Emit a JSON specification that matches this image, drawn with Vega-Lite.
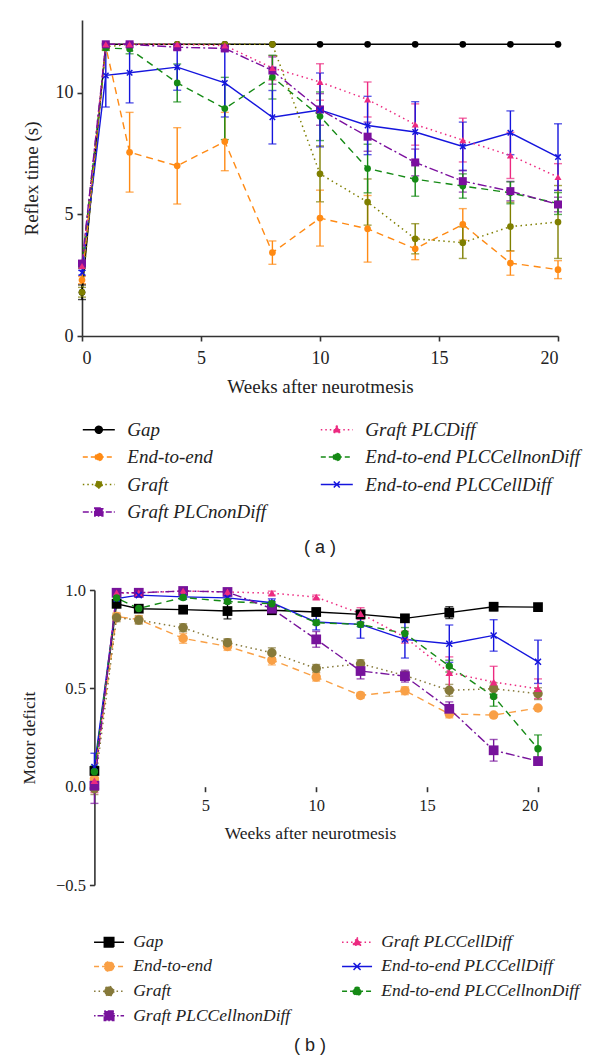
{
  "$schema": "https://vega.github.io/schema/vega-lite/v6.json",
  "padding": {"top": 20, "left": 20, "right": 5, "bottom": 5},
  "bounds": "flush",
  "spacing": 254,
  "resolve": {
    "scale": {"color": "independent", "fill": "independent", "stroke": "independent", "shape": "independent", "strokeDash": "independent"}
  },
  "config": {
    "view": {"stroke": null},
    "axis": {"grid": false, "domainColor": "#333", "domainWidth": 1.6, "tickColor": "#333", "tickWidth": 1.6, "tickSize": 5, "labelFont": "Liberation Serif", "titleFont": "Liberation Serif", "titleFontWeight": "normal", "labelColor": "#222", "titleColor": "#222"},
    "legend": {"labelFont": "Liberation Serif", "labelFontStyle": "italic", "labelLimit": 400, "labelColor": "#222", "padding": 0},
    "title": {"font": "Liberation Sans", "fontWeight": "normal", "color": "#222"}
  },
  "datasets": {
    "a": [
      {"group": "Gap", "week": 0, "value": 1.8, "err": 0.3},
      {"group": "Gap", "week": 1, "value": 12, "err": 0},
      {"group": "Gap", "week": 2, "value": 12, "err": 0},
      {"group": "Gap", "week": 4, "value": 12, "err": 0},
      {"group": "Gap", "week": 6, "value": 12, "err": 0},
      {"group": "Gap", "week": 8, "value": 12, "err": 0},
      {"group": "Gap", "week": 10, "value": 12, "err": 0},
      {"group": "Gap", "week": 12, "value": 12, "err": 0},
      {"group": "Gap", "week": 14, "value": 12, "err": 0},
      {"group": "Gap", "week": 16, "value": 12, "err": 0},
      {"group": "Gap", "week": 18, "value": 12, "err": 0},
      {"group": "Gap", "week": 20, "value": 12, "err": 0},
      {"group": "End-to-end", "week": 0, "value": 2.3, "err": 0.15},
      {"group": "End-to-end", "week": 1, "value": 11.9, "err": 0.15},
      {"group": "End-to-end", "week": 2, "value": 7.56, "err": 1.64},
      {"group": "End-to-end", "week": 4, "value": 7.0, "err": 1.57},
      {"group": "End-to-end", "week": 6, "value": 8.0, "err": 1.2},
      {"group": "End-to-end", "week": 8, "value": 3.43, "err": 0.48},
      {"group": "End-to-end", "week": 10, "value": 4.85, "err": 1.15},
      {"group": "End-to-end", "week": 12, "value": 4.41, "err": 1.37},
      {"group": "End-to-end", "week": 14, "value": 3.59, "err": 0.45},
      {"group": "End-to-end", "week": 16, "value": 4.59, "err": 0.65},
      {"group": "End-to-end", "week": 18, "value": 3.0, "err": 0.5},
      {"group": "End-to-end", "week": 20, "value": 2.73, "err": 0.37},
      {"group": "Graft", "week": 0, "value": 1.8, "err": 0.2},
      {"group": "Graft", "week": 1, "value": 11.9, "err": 0.1},
      {"group": "Graft", "week": 2, "value": 12, "err": 0},
      {"group": "Graft", "week": 4, "value": 12, "err": 0},
      {"group": "Graft", "week": 6, "value": 12, "err": 0},
      {"group": "Graft", "week": 8, "value": 12, "err": 0},
      {"group": "Graft", "week": 10, "value": 6.67, "err": 1.15},
      {"group": "Graft", "week": 12, "value": 5.51, "err": 0.95},
      {"group": "Graft", "week": 14, "value": 4.0, "err": 0.62},
      {"group": "Graft", "week": 16, "value": 3.84, "err": 0.65},
      {"group": "Graft", "week": 18, "value": 4.5, "err": 1.0},
      {"group": "Graft", "week": 20, "value": 4.69, "err": 1.5},
      {"group": "Graft PLCnonDiff", "week": 0, "value": 2.98, "err": 0.1},
      {"group": "Graft PLCnonDiff", "week": 1, "value": 12, "err": 0},
      {"group": "Graft PLCnonDiff", "week": 2, "value": 12, "err": 0},
      {"group": "Graft PLCnonDiff", "week": 4, "value": 11.88, "err": 0.1},
      {"group": "Graft PLCnonDiff", "week": 6, "value": 11.83, "err": 0.1},
      {"group": "Graft PLCnonDiff", "week": 8, "value": 10.92, "err": 0.56},
      {"group": "Graft PLCnonDiff", "week": 10, "value": 9.32, "err": 0.65},
      {"group": "Graft PLCnonDiff", "week": 12, "value": 8.2, "err": 0.6},
      {"group": "Graft PLCnonDiff", "week": 14, "value": 7.14, "err": 0.55},
      {"group": "Graft PLCnonDiff", "week": 16, "value": 6.37, "err": 0.45},
      {"group": "Graft PLCnonDiff", "week": 18, "value": 5.96, "err": 0.4},
      {"group": "Graft PLCnonDiff", "week": 20, "value": 5.41, "err": 0.3},
      {"group": "Graft PLCDiff", "week": 0, "value": 2.88, "err": 0.1},
      {"group": "Graft PLCDiff", "week": 1, "value": 12, "err": 0},
      {"group": "Graft PLCDiff", "week": 2, "value": 12, "err": 0},
      {"group": "Graft PLCDiff", "week": 4, "value": 12, "err": 0},
      {"group": "Graft PLCDiff", "week": 6, "value": 11.95, "err": 0.05},
      {"group": "Graft PLCDiff", "week": 8, "value": 11.03, "err": 0.5},
      {"group": "Graft PLCDiff", "week": 10, "value": 10.45, "err": 0.75},
      {"group": "Graft PLCDiff", "week": 12, "value": 9.73, "err": 0.72},
      {"group": "Graft PLCDiff", "week": 14, "value": 8.7, "err": 0.85},
      {"group": "Graft PLCDiff", "week": 16, "value": 8.06, "err": 0.9},
      {"group": "Graft PLCDiff", "week": 18, "value": 7.43, "err": 0.95},
      {"group": "Graft PLCDiff", "week": 20, "value": 6.54, "err": 0.55},
      {"group": "End-to-end PLCCellnonDiff", "week": 0, "value": 2.9, "err": 0.1},
      {"group": "End-to-end PLCCellnonDiff", "week": 1, "value": 11.85, "err": 0.1},
      {"group": "End-to-end PLCCellnonDiff", "week": 2, "value": 11.81, "err": 0.2},
      {"group": "End-to-end PLCCellnonDiff", "week": 4, "value": 10.41, "err": 0.78},
      {"group": "End-to-end PLCCellnonDiff", "week": 6, "value": 9.36, "err": 1.28},
      {"group": "End-to-end PLCCellnonDiff", "week": 8, "value": 10.65, "err": 0.9},
      {"group": "End-to-end PLCCellnonDiff", "week": 10, "value": 9.04, "err": 1.0},
      {"group": "End-to-end PLCCellnonDiff", "week": 12, "value": 6.89, "err": 1.0},
      {"group": "End-to-end PLCCellnonDiff", "week": 14, "value": 6.45, "err": 0.7},
      {"group": "End-to-end PLCCellnonDiff", "week": 16, "value": 6.17, "err": 0.5},
      {"group": "End-to-end PLCCellnonDiff", "week": 18, "value": 5.89, "err": 0.45},
      {"group": "End-to-end PLCCellnonDiff", "week": 20, "value": 5.45, "err": 0.45},
      {"group": "End-to-end PLCCellDiff", "week": 0, "value": 2.6, "err": 0.1},
      {"group": "End-to-end PLCCellDiff", "week": 1, "value": 10.72, "err": 1.3},
      {"group": "End-to-end PLCCellDiff", "week": 2, "value": 10.83, "err": 1.24},
      {"group": "End-to-end PLCCellDiff", "week": 4, "value": 11.06, "err": 0.95},
      {"group": "End-to-end PLCCellDiff", "week": 6, "value": 10.41, "err": 1.4},
      {"group": "End-to-end PLCCellDiff", "week": 8, "value": 9.0, "err": 1.1},
      {"group": "End-to-end PLCCellDiff", "week": 10, "value": 9.3, "err": 1.52},
      {"group": "End-to-end PLCCellDiff", "week": 12, "value": 8.66, "err": 1.2},
      {"group": "End-to-end PLCCellDiff", "week": 14, "value": 8.39, "err": 1.25},
      {"group": "End-to-end PLCCellDiff", "week": 16, "value": 7.8, "err": 1.0},
      {"group": "End-to-end PLCCellDiff", "week": 18, "value": 8.36, "err": 0.9},
      {"group": "End-to-end PLCCellDiff", "week": 20, "value": 7.36, "err": 1.37}
    ],
    "b": [
      {"group": "Gap", "week": 0, "value": 0.08, "err": 0.02},
      {"group": "Gap", "week": 1, "value": 0.93, "err": 0.02},
      {"group": "Gap", "week": 2, "value": 0.905, "err": 0.01},
      {"group": "Gap", "week": 4, "value": 0.9, "err": 0.01},
      {"group": "Gap", "week": 6, "value": 0.893, "err": 0.04},
      {"group": "Gap", "week": 8, "value": 0.897, "err": 0.02},
      {"group": "Gap", "week": 10, "value": 0.888, "err": 0.02},
      {"group": "Gap", "week": 12, "value": 0.876, "err": 0.02},
      {"group": "Gap", "week": 14, "value": 0.856, "err": 0.015},
      {"group": "Gap", "week": 16, "value": 0.885, "err": 0.03},
      {"group": "Gap", "week": 18, "value": 0.915, "err": 0.02},
      {"group": "Gap", "week": 20, "value": 0.913, "err": 0.01},
      {"group": "End-to-end", "week": 0, "value": 0.04, "err": 0.03},
      {"group": "End-to-end", "week": 1, "value": 0.865, "err": 0.02},
      {"group": "End-to-end", "week": 2, "value": 0.85, "err": 0.02},
      {"group": "End-to-end", "week": 4, "value": 0.754, "err": 0.025},
      {"group": "End-to-end", "week": 6, "value": 0.713, "err": 0.02},
      {"group": "End-to-end", "week": 8, "value": 0.644, "err": 0.025},
      {"group": "End-to-end", "week": 10, "value": 0.557, "err": 0.02},
      {"group": "End-to-end", "week": 12, "value": 0.464, "err": 0.015},
      {"group": "End-to-end", "week": 14, "value": 0.488, "err": 0.02},
      {"group": "End-to-end", "week": 16, "value": 0.37, "err": 0.02},
      {"group": "End-to-end", "week": 18, "value": 0.364, "err": 0.01},
      {"group": "End-to-end", "week": 20, "value": 0.4, "err": 0},
      {"group": "Graft", "week": 0, "value": -0.01, "err": 0.03},
      {"group": "Graft", "week": 1, "value": 0.859, "err": 0.02},
      {"group": "Graft", "week": 2, "value": 0.847, "err": 0.02},
      {"group": "Graft", "week": 4, "value": 0.808, "err": 0.02},
      {"group": "Graft", "week": 6, "value": 0.732, "err": 0.02},
      {"group": "Graft", "week": 8, "value": 0.681, "err": 0.025},
      {"group": "Graft", "week": 10, "value": 0.601, "err": 0.02},
      {"group": "Graft", "week": 12, "value": 0.625, "err": 0.02},
      {"group": "Graft", "week": 14, "value": 0.565, "err": 0.02},
      {"group": "Graft", "week": 16, "value": 0.49, "err": 0.03},
      {"group": "Graft", "week": 18, "value": 0.498, "err": 0.03},
      {"group": "Graft", "week": 20, "value": 0.473, "err": 0.03},
      {"group": "Graft PLCCellnonDiff", "week": 0, "value": 0.005, "err": 0.09},
      {"group": "Graft PLCCellnonDiff", "week": 1, "value": 0.986, "err": 0.01},
      {"group": "Graft PLCCellnonDiff", "week": 2, "value": 0.986, "err": 0.01},
      {"group": "Graft PLCCellnonDiff", "week": 4, "value": 0.995, "err": 0.01},
      {"group": "Graft PLCCellnonDiff", "week": 6, "value": 0.99, "err": 0.01},
      {"group": "Graft PLCCellnonDiff", "week": 8, "value": 0.905, "err": 0.01},
      {"group": "Graft PLCCellnonDiff", "week": 10, "value": 0.749, "err": 0.04},
      {"group": "Graft PLCCellnonDiff", "week": 12, "value": 0.588, "err": 0.04},
      {"group": "Graft PLCCellnonDiff", "week": 14, "value": 0.562, "err": 0.03},
      {"group": "Graft PLCCellnonDiff", "week": 16, "value": 0.396, "err": 0.035},
      {"group": "Graft PLCCellnonDiff", "week": 18, "value": 0.185, "err": 0.055},
      {"group": "Graft PLCCellnonDiff", "week": 20, "value": 0.13, "err": 0.02},
      {"group": "Graft PLCCellDiff", "week": 0, "value": 0.03, "err": 0.06},
      {"group": "Graft PLCCellDiff", "week": 1, "value": 0.985, "err": 0.01},
      {"group": "Graft PLCCellDiff", "week": 2, "value": 0.985, "err": 0.01},
      {"group": "Graft PLCCellDiff", "week": 4, "value": 0.995, "err": 0.01},
      {"group": "Graft PLCCellDiff", "week": 6, "value": 0.99, "err": 0.01},
      {"group": "Graft PLCCellDiff", "week": 8, "value": 0.984, "err": 0.01},
      {"group": "Graft PLCCellDiff", "week": 10, "value": 0.964, "err": 0.01},
      {"group": "Graft PLCCellDiff", "week": 12, "value": 0.88, "err": 0.03},
      {"group": "Graft PLCCellDiff", "week": 14, "value": 0.76, "err": 0.03},
      {"group": "Graft PLCCellDiff", "week": 16, "value": 0.58, "err": 0.08},
      {"group": "Graft PLCCellDiff", "week": 18, "value": 0.532, "err": 0.08},
      {"group": "Graft PLCCellDiff", "week": 20, "value": 0.498, "err": 0.05},
      {"group": "End-to-end PLCCellDiff", "week": 0, "value": 0.1, "err": 0.07},
      {"group": "End-to-end PLCCellDiff", "week": 1, "value": 0.956, "err": 0.01},
      {"group": "End-to-end PLCCellDiff", "week": 2, "value": 0.974, "err": 0.01},
      {"group": "End-to-end PLCCellDiff", "week": 4, "value": 0.965, "err": 0.01},
      {"group": "End-to-end PLCCellDiff", "week": 6, "value": 0.96, "err": 0.01},
      {"group": "End-to-end PLCCellDiff", "week": 8, "value": 0.935, "err": 0.02},
      {"group": "End-to-end PLCCellDiff", "week": 10, "value": 0.837, "err": 0.04},
      {"group": "End-to-end PLCCellDiff", "week": 12, "value": 0.825, "err": 0.07},
      {"group": "End-to-end PLCCellDiff", "week": 14, "value": 0.749, "err": 0.095},
      {"group": "End-to-end PLCCellDiff", "week": 16, "value": 0.727, "err": 0.095},
      {"group": "End-to-end PLCCellDiff", "week": 18, "value": 0.769, "err": 0.08},
      {"group": "End-to-end PLCCellDiff", "week": 20, "value": 0.635, "err": 0.11},
      {"group": "End-to-end PLCCellnonDiff", "week": 0, "value": 0.076, "err": 0.03},
      {"group": "End-to-end PLCCellnonDiff", "week": 1, "value": 0.959, "err": 0.01},
      {"group": "End-to-end PLCCellnonDiff", "week": 2, "value": 0.906, "err": 0.01},
      {"group": "End-to-end PLCCellnonDiff", "week": 4, "value": 0.962, "err": 0.01},
      {"group": "End-to-end PLCCellnonDiff", "week": 6, "value": 0.942, "err": 0.01},
      {"group": "End-to-end PLCCellnonDiff", "week": 8, "value": 0.93, "err": 0.01},
      {"group": "End-to-end PLCCellnonDiff", "week": 10, "value": 0.834, "err": 0.01},
      {"group": "End-to-end PLCCellnonDiff", "week": 12, "value": 0.825, "err": 0.01},
      {"group": "End-to-end PLCCellnonDiff", "week": 14, "value": 0.779, "err": 0.03},
      {"group": "End-to-end PLCCellnonDiff", "week": 16, "value": 0.613, "err": 0.03},
      {"group": "End-to-end PLCCellnonDiff", "week": 18, "value": 0.459, "err": 0.05},
      {"group": "End-to-end PLCCellnonDiff", "week": 20, "value": 0.193, "err": 0.07}
    ]
  },
  "vconcat": [
    {
      "width": 476,
      "height": 316,
      "data": {"name": "a"},
      "title": {"text": "( a )", "orient": "bottom", "offset": 17, "fontSize": 18},
      "encoding": {
        "x": {"field": "week", "type": "quantitative", "scale": {"domain": [0, 20], "nice": false}, "axis": {"values": [0, 5, 10, 15, 20], "title": "Weeks after neurotmesis", "labelFontSize": 18, "titleFontSize": 19, "labelPadding": 8, "titlePadding": 10}},
        "y": {"field": "value", "type": "quantitative", "scale": {"domain": [0, 13], "nice": false, "zero": false}, "axis": {"values": [0, 5, 10], "title": "Reflex time (s)", "labelFontSize": 18, "titleFontSize": 19, "labelPadding": 4, "titlePadding": 13.5}}
      },
      "layer": [
        {
          "transform": [{"filter": "datum.err > 0"}],
          "mark": {"type": "errorbar", "ticks": {"size": 8, "thickness": 1.4}, "thickness": 1.4},
          "encoding": {
            "yError": {"field": "err"},
            "color": {"field": "group", "type": "nominal", "legend": null, "scale": {"domain": ["End-to-end PLCCellDiff", "End-to-end PLCCellnonDiff", "Graft PLCDiff", "Graft PLCnonDiff", "Graft", "End-to-end", "Gap"], "range": ["#1515DD", "#158A15", "#EC2A80", "#7B0F9E", "#7F7F00", "#FF8A14", "#000000"]}}
          }
        },
        {
          "transform": [{"filter": {"field": "group", "oneOf": ["Gap", "End-to-end PLCCellDiff"]}}],
          "mark": {"type": "line", "strokeWidth": 1.4},
          "encoding": {
            "color": {"field": "group", "type": "nominal", "legend": null, "scale": {"domain": ["End-to-end PLCCellDiff", "End-to-end PLCCellnonDiff", "Graft PLCDiff", "Graft PLCnonDiff", "Graft", "End-to-end", "Gap"], "range": ["#1515DD", "#158A15", "#EC2A80", "#7B0F9E", "#7F7F00", "#FF8A14", "#000000"]}}
          }
        },
        {
          "transform": [{"filter": {"field": "group", "oneOf": ["End-to-end", "End-to-end PLCCellnonDiff"]}}],
          "mark": {"type": "line", "strokeWidth": 1.4, "strokeDash": [7, 5]},
          "encoding": {
            "color": {"field": "group", "type": "nominal", "legend": null, "scale": {"domain": ["End-to-end PLCCellDiff", "End-to-end PLCCellnonDiff", "Graft PLCDiff", "Graft PLCnonDiff", "Graft", "End-to-end", "Gap"], "range": ["#1515DD", "#158A15", "#EC2A80", "#7B0F9E", "#7F7F00", "#FF8A14", "#000000"]}}
          }
        },
        {
          "transform": [{"filter": {"field": "group", "oneOf": ["Graft", "Graft PLCDiff"]}}],
          "mark": {"type": "line", "strokeWidth": 1.5, "strokeDash": [1.5, 3.5]},
          "encoding": {
            "color": {"field": "group", "type": "nominal", "legend": null, "scale": {"domain": ["End-to-end PLCCellDiff", "End-to-end PLCCellnonDiff", "Graft PLCDiff", "Graft PLCnonDiff", "Graft", "End-to-end", "Gap"], "range": ["#1515DD", "#158A15", "#EC2A80", "#7B0F9E", "#7F7F00", "#FF8A14", "#000000"]}}
          }
        },
        {
          "transform": [{"filter": {"field": "group", "oneOf": ["Graft PLCnonDiff"]}}],
          "mark": {"type": "line", "strokeWidth": 1.4, "strokeDash": [9, 3, 2, 3]},
          "encoding": {
            "color": {"field": "group", "type": "nominal", "legend": null, "scale": {"domain": ["End-to-end PLCCellDiff", "End-to-end PLCCellnonDiff", "Graft PLCDiff", "Graft PLCnonDiff", "Graft", "End-to-end", "Gap"], "range": ["#1515DD", "#158A15", "#EC2A80", "#7B0F9E", "#7F7F00", "#FF8A14", "#000000"]}}
          }
        },
        {
          "transform": [{"filter": {"field": "group", "oneOf": ["Gap", "End-to-end", "Graft", "End-to-end PLCCellnonDiff"]}}],
          "mark": {"type": "point", "shape": "circle", "filled": true, "size": 45, "opacity": 1},
          "encoding": {
            "color": {"field": "group", "type": "nominal", "legend": null, "scale": {"domain": ["End-to-end PLCCellDiff", "End-to-end PLCCellnonDiff", "Graft PLCDiff", "Graft PLCnonDiff", "Graft", "End-to-end", "Gap"], "range": ["#1515DD", "#158A15", "#EC2A80", "#7B0F9E", "#7F7F00", "#FF8A14", "#000000"]}}
          }
        },
        {
          "transform": [{"filter": {"field": "group", "oneOf": ["Graft PLCnonDiff"]}}],
          "mark": {"type": "point", "shape": "square", "filled": true, "size": 64, "opacity": 1},
          "encoding": {
            "color": {"field": "group", "type": "nominal", "legend": null, "scale": {"domain": ["End-to-end PLCCellDiff", "End-to-end PLCCellnonDiff", "Graft PLCDiff", "Graft PLCnonDiff", "Graft", "End-to-end", "Gap"], "range": ["#1515DD", "#158A15", "#EC2A80", "#7B0F9E", "#7F7F00", "#FF8A14", "#000000"]}}
          }
        },
        {
          "transform": [{"filter": {"field": "group", "oneOf": ["Graft PLCDiff"]}}],
          "mark": {"type": "point", "shape": "triangle-up", "filled": true, "size": 50, "opacity": 1},
          "encoding": {
            "color": {"field": "group", "type": "nominal", "legend": null, "scale": {"domain": ["End-to-end PLCCellDiff", "End-to-end PLCCellnonDiff", "Graft PLCDiff", "Graft PLCnonDiff", "Graft", "End-to-end", "Gap"], "range": ["#1515DD", "#158A15", "#EC2A80", "#7B0F9E", "#7F7F00", "#FF8A14", "#000000"]}}
          }
        },
        {
          "transform": [{"filter": {"field": "group", "oneOf": ["End-to-end PLCCellDiff"]}}],
          "mark": {"type": "point", "shape": "M-1,-1L1,1M-1,1L1,-1", "filled": false, "size": 30, "strokeWidth": 1.5, "opacity": 1},
          "encoding": {
            "color": {"field": "group", "type": "nominal", "legend": null, "scale": {"domain": ["End-to-end PLCCellDiff", "End-to-end PLCCellnonDiff", "Graft PLCDiff", "Graft PLCnonDiff", "Graft", "End-to-end", "Gap"], "range": ["#1515DD", "#158A15", "#EC2A80", "#7B0F9E", "#7F7F00", "#FF8A14", "#000000"]}}
          }
        },
        {
          "transform": [{"filter": "false"}],
          "mark": {"type": "point", "filled": true, "opacity": 1, "strokeWidth": 1.5},
          "encoding": {
            "fill": {"field": "group", "type": "nominal", "scale": {"domain": ["Gap", "End-to-end", "Graft", "Graft PLCnonDiff", "Graft PLCDiff", "End-to-end PLCCellnonDiff", "End-to-end PLCCellDiff"], "range": ["#000000", "#FF8A14", "#7F7F00", "#7B0F9E", "#EC2A80", "#158A15", "#1515DD"]},
              "legend": {"title": null, "values": ["Gap", "End-to-end", "Graft", "Graft PLCnonDiff", "Graft PLCDiff", "End-to-end PLCCellnonDiff", "End-to-end PLCCellDiff"], "columns": 2, "orient": "bottom", "direction": "vertical", "symbolOffset": 7.3, "labelOffset": 19, "columnPadding": 50, "rowPadding": 7.5, "labelFontSize": 19, "offset": 24, "symbolSize": 100, "symbolStrokeWidth": 1.5}},
            "stroke": {"field": "group", "type": "nominal", "scale": {"domain": ["Gap", "End-to-end", "Graft", "Graft PLCnonDiff", "Graft PLCDiff", "End-to-end PLCCellnonDiff", "End-to-end PLCCellDiff"], "range": ["#000000", "#FF8A14", "#7F7F00", "#7B0F9E", "#EC2A80", "#158A15", "#1515DD"]},
              "legend": {"title": null, "values": ["Gap", "End-to-end", "Graft", "Graft PLCnonDiff", "Graft PLCDiff", "End-to-end PLCCellnonDiff", "End-to-end PLCCellDiff"], "columns": 2, "orient": "bottom", "direction": "vertical", "symbolOffset": 7.3, "labelOffset": 19, "columnPadding": 50, "rowPadding": 7.5, "labelFontSize": 19, "offset": 24, "symbolSize": 100, "symbolStrokeWidth": 1.5}},
            "shape": {"field": "group", "type": "nominal", "scale": {"domain": ["Gap", "End-to-end", "Graft", "Graft PLCnonDiff", "Graft PLCDiff", "End-to-end PLCCellnonDiff", "End-to-end PLCCellDiff"], "range": [
                "M-3.2,0H3.2M0.7,0A0.7,0.7,0,1,1,-0.7,0A0.7,0.7,0,1,1,0.7,0Z",
                "M-3.2,0H3.2M0.7,0A0.7,0.7,0,1,1,-0.7,0A0.7,0.7,0,1,1,0.7,0Z",
                "M-3.2,0H3.2M0.7,0A0.7,0.7,0,1,1,-0.7,0A0.7,0.7,0,1,1,0.7,0Z",
                "M-3.2,0H3.2M-0.8,-0.8H0.8V0.8H-0.8Z",
                "M-3.2,0H3.2M0,-0.85L0.8,0.55H-0.8Z",
                "M-3.2,0H3.2M0.7,0A0.7,0.7,0,1,1,-0.7,0A0.7,0.7,0,1,1,0.7,0Z",
                "M-3.2,0H3.2M-0.6,-0.6L0.6,0.6M-0.6,0.6L0.6,-0.6"]},
              "legend": {"title": null, "values": ["Gap", "End-to-end", "Graft", "Graft PLCnonDiff", "Graft PLCDiff", "End-to-end PLCCellnonDiff", "End-to-end PLCCellDiff"], "columns": 2, "orient": "bottom", "direction": "vertical", "symbolOffset": 7.3, "labelOffset": 19, "columnPadding": 50, "rowPadding": 7.5, "labelFontSize": 19, "offset": 24, "symbolSize": 100, "symbolStrokeWidth": 1.5}},
            "strokeDash": {"field": "group", "type": "nominal", "scale": {"domain": ["Gap", "End-to-end", "Graft", "Graft PLCnonDiff", "Graft PLCDiff", "End-to-end PLCCellnonDiff", "End-to-end PLCCellDiff"], "range": [[1, 0], [5, 3], [1.5, 3], [6, 2, 1.5, 2], [1.5, 3], [5, 3], [1, 0]]},
              "legend": {"title": null, "values": ["Gap", "End-to-end", "Graft", "Graft PLCnonDiff", "Graft PLCDiff", "End-to-end PLCCellnonDiff", "End-to-end PLCCellDiff"], "columns": 2, "orient": "bottom", "direction": "vertical", "symbolOffset": 7.3, "labelOffset": 19, "columnPadding": 50, "rowPadding": 7.5, "labelFontSize": 19, "offset": 24, "symbolSize": 100, "symbolStrokeWidth": 1.5}}
          }
        }
      ]
    },
    {
      "width": 456,
      "height": 295,
      "data": {"name": "b"},
      "title": {"text": "( b )", "orient": "bottom", "offset": 12, "fontSize": 18},
      "encoding": {
        "x": {"field": "week", "type": "quantitative", "scale": {"domain": [-0.56, 20], "nice": false, "zero": false}, "axis": {"values": [5, 10, 15, 20], "domain": false, "title": "Weeks after neurotmesis", "labelFontSize": 16.5, "titleFontSize": 17.5, "labelPadding": 6, "titlePadding": 10, "offset": -98.3}},
        "y": {"field": "value", "type": "quantitative", "scale": {"domain": [-0.5, 1.0], "nice": false, "zero": false}, "axis": {"values": [-0.5, 0, 0.5, 1.0], "format": ".1f", "title": "Motor deficit", "labelFontSize": 16.5, "titleFontSize": 17.5, "labelPadding": 4, "titlePadding": 17, "offset": -12.4}}
      },
      "layer": [
        {
          "data": {"values": [{}]},
          "mark": {"type": "rule", "color": "#333", "strokeWidth": 1.6},
          "encoding": {"x": {"datum": 0}, "x2": {"datum": 20}, "y": {"datum": 0}}
        },
        {
          "transform": [{"filter": "datum.err > 0"}],
          "mark": {"type": "errorbar", "ticks": {"size": 8, "thickness": 1.4}, "thickness": 1.4},
          "encoding": {
            "yError": {"field": "err"},
            "color": {"field": "group", "type": "nominal", "legend": null, "scale": {"domain": ["End-to-end PLCCellnonDiff", "End-to-end PLCCellDiff", "Graft PLCCellDiff", "Graft PLCCellnonDiff", "Graft", "End-to-end", "Gap"], "range": ["#158A15", "#1515DD", "#EC2A80", "#77139B", "#86793A", "#F9A046", "#000000"]}}
          }
        },
        {
          "transform": [{"filter": {"field": "group", "oneOf": ["Gap", "End-to-end PLCCellDiff"]}}],
          "mark": {"type": "line", "strokeWidth": 1.4},
          "encoding": {
            "color": {"field": "group", "type": "nominal", "legend": null, "scale": {"domain": ["End-to-end PLCCellnonDiff", "End-to-end PLCCellDiff", "Graft PLCCellDiff", "Graft PLCCellnonDiff", "Graft", "End-to-end", "Gap"], "range": ["#158A15", "#1515DD", "#EC2A80", "#77139B", "#86793A", "#F9A046", "#000000"]}}
          }
        },
        {
          "transform": [{"filter": {"field": "group", "oneOf": ["End-to-end", "End-to-end PLCCellnonDiff"]}}],
          "mark": {"type": "line", "strokeWidth": 1.4, "strokeDash": [7, 5]},
          "encoding": {
            "color": {"field": "group", "type": "nominal", "legend": null, "scale": {"domain": ["End-to-end PLCCellnonDiff", "End-to-end PLCCellDiff", "Graft PLCCellDiff", "Graft PLCCellnonDiff", "Graft", "End-to-end", "Gap"], "range": ["#158A15", "#1515DD", "#EC2A80", "#77139B", "#86793A", "#F9A046", "#000000"]}}
          }
        },
        {
          "transform": [{"filter": {"field": "group", "oneOf": ["Graft", "Graft PLCCellDiff"]}}],
          "mark": {"type": "line", "strokeWidth": 1.5, "strokeDash": [1.5, 3.5]},
          "encoding": {
            "color": {"field": "group", "type": "nominal", "legend": null, "scale": {"domain": ["End-to-end PLCCellnonDiff", "End-to-end PLCCellDiff", "Graft PLCCellDiff", "Graft PLCCellnonDiff", "Graft", "End-to-end", "Gap"], "range": ["#158A15", "#1515DD", "#EC2A80", "#77139B", "#86793A", "#F9A046", "#000000"]}}
          }
        },
        {
          "transform": [{"filter": {"field": "group", "oneOf": ["Graft PLCCellnonDiff"]}}],
          "mark": {"type": "line", "strokeWidth": 1.4, "strokeDash": [2, 3, 9, 3]},
          "encoding": {
            "color": {"field": "group", "type": "nominal", "legend": null, "scale": {"domain": ["End-to-end PLCCellnonDiff", "End-to-end PLCCellDiff", "Graft PLCCellDiff", "Graft PLCCellnonDiff", "Graft", "End-to-end", "Gap"], "range": ["#158A15", "#1515DD", "#EC2A80", "#77139B", "#86793A", "#F9A046", "#000000"]}}
          }
        },
        {
          "transform": [{"filter": {"field": "group", "oneOf": ["End-to-end", "Graft"]}}],
          "mark": {"type": "point", "shape": "circle", "filled": true, "size": 90, "opacity": 1},
          "encoding": {
            "color": {"field": "group", "type": "nominal", "legend": null, "scale": {"domain": ["End-to-end PLCCellnonDiff", "End-to-end PLCCellDiff", "Graft PLCCellDiff", "Graft PLCCellnonDiff", "Graft", "End-to-end", "Gap"], "range": ["#158A15", "#1515DD", "#EC2A80", "#77139B", "#86793A", "#F9A046", "#000000"]}}
          }
        },
        {
          "transform": [{"filter": {"field": "group", "oneOf": ["Gap", "Graft PLCCellnonDiff"]}}],
          "mark": {"type": "point", "shape": "square", "filled": true, "size": 95, "opacity": 1},
          "encoding": {
            "color": {"field": "group", "type": "nominal", "legend": null, "scale": {"domain": ["End-to-end PLCCellnonDiff", "End-to-end PLCCellDiff", "Graft PLCCellDiff", "Graft PLCCellnonDiff", "Graft", "End-to-end", "Gap"], "range": ["#158A15", "#1515DD", "#EC2A80", "#77139B", "#86793A", "#F9A046", "#000000"]}}
          }
        },
        {
          "transform": [{"filter": {"field": "group", "oneOf": ["Graft PLCCellDiff"]}}],
          "mark": {"type": "point", "shape": "triangle-up", "filled": true, "size": 60, "opacity": 1},
          "encoding": {
            "color": {"field": "group", "type": "nominal", "legend": null, "scale": {"domain": ["End-to-end PLCCellnonDiff", "End-to-end PLCCellDiff", "Graft PLCCellDiff", "Graft PLCCellnonDiff", "Graft", "End-to-end", "Gap"], "range": ["#158A15", "#1515DD", "#EC2A80", "#77139B", "#86793A", "#F9A046", "#000000"]}}
          }
        },
        {
          "transform": [{"filter": {"field": "group", "oneOf": ["End-to-end PLCCellDiff"]}}],
          "mark": {"type": "point", "shape": "M-1,-1L1,1M-1,1L1,-1", "filled": false, "size": 36, "strokeWidth": 1.5, "opacity": 1},
          "encoding": {
            "color": {"field": "group", "type": "nominal", "legend": null, "scale": {"domain": ["End-to-end PLCCellnonDiff", "End-to-end PLCCellDiff", "Graft PLCCellDiff", "Graft PLCCellnonDiff", "Graft", "End-to-end", "Gap"], "range": ["#158A15", "#1515DD", "#EC2A80", "#77139B", "#86793A", "#F9A046", "#000000"]}}
          }
        },
        {
          "transform": [{"filter": {"field": "group", "oneOf": ["End-to-end PLCCellnonDiff"]}}],
          "mark": {"type": "point", "shape": "circle", "filled": true, "size": 55, "opacity": 1},
          "encoding": {
            "color": {"field": "group", "type": "nominal", "legend": null, "scale": {"domain": ["End-to-end PLCCellnonDiff", "End-to-end PLCCellDiff", "Graft PLCCellDiff", "Graft PLCCellnonDiff", "Graft", "End-to-end", "Gap"], "range": ["#158A15", "#1515DD", "#EC2A80", "#77139B", "#86793A", "#F9A046", "#000000"]}}
          }
        },
        {
          "transform": [{"filter": "false"}],
          "mark": {"type": "point", "filled": true, "opacity": 1, "strokeWidth": 1.5},
          "encoding": {
            "fill": {"field": "group", "type": "nominal", "scale": {"domain": ["Gap", "End-to-end", "Graft", "Graft PLCCellnonDiff", "Graft PLCCellDiff", "End-to-end PLCCellDiff", "End-to-end PLCCellnonDiff"], "range": ["#000000", "#F9A046", "#86793A", "#77139B", "#EC2A80", "#1515DD", "#158A15"]},
              "legend": {"title": null, "values": ["Gap", "End-to-end", "Graft", "Graft PLCCellnonDiff", "Graft PLCCellDiff", "End-to-end PLCCellDiff", "End-to-end PLCCellnonDiff"], "columns": 2, "orient": "bottom", "direction": "vertical", "symbolOffset": 18.3, "labelOffset": 15.4, "columnPadding": 39, "rowPadding": 5.7, "labelFontSize": 17.5, "offset": 48, "symbolSize": 100, "symbolStrokeWidth": 1.5}},
            "stroke": {"field": "group", "type": "nominal", "scale": {"domain": ["Gap", "End-to-end", "Graft", "Graft PLCCellnonDiff", "Graft PLCCellDiff", "End-to-end PLCCellDiff", "End-to-end PLCCellnonDiff"], "range": ["#000000", "#F9A046", "#86793A", "#77139B", "#EC2A80", "#1515DD", "#158A15"]},
              "legend": {"title": null, "values": ["Gap", "End-to-end", "Graft", "Graft PLCCellnonDiff", "Graft PLCCellDiff", "End-to-end PLCCellDiff", "End-to-end PLCCellnonDiff"], "columns": 2, "orient": "bottom", "direction": "vertical", "symbolOffset": 18.3, "labelOffset": 15.4, "columnPadding": 39, "rowPadding": 5.7, "labelFontSize": 17.5, "offset": 48, "symbolSize": 100, "symbolStrokeWidth": 1.5}},
            "shape": {"field": "group", "type": "nominal", "scale": {"domain": ["Gap", "End-to-end", "Graft", "Graft PLCCellnonDiff", "Graft PLCCellDiff", "End-to-end PLCCellDiff", "End-to-end PLCCellnonDiff"], "range": [
                "M-3,0H3M-0.95,-0.95H0.95V0.95H-0.95Z",
                "M-3,0H3M0.95,0A0.95,0.95,0,1,1,-0.95,0A0.95,0.95,0,1,1,0.95,0Z",
                "M-3,0H3M0.95,0A0.95,0.95,0,1,1,-0.95,0A0.95,0.95,0,1,1,0.95,0Z",
                "M-3,0H3M-0.95,-0.95H0.95V0.95H-0.95Z",
                "M-3,0H3M0,-0.95L0.85,0.6H-0.85Z",
                "M-3,0H3M-0.7,-0.7L0.7,0.7M-0.7,0.7L0.7,-0.7",
                "M-3,0H3M0.8,0A0.8,0.8,0,1,1,-0.8,0A0.8,0.8,0,1,1,0.8,0Z"]},
              "legend": {"title": null, "values": ["Gap", "End-to-end", "Graft", "Graft PLCCellnonDiff", "Graft PLCCellDiff", "End-to-end PLCCellDiff", "End-to-end PLCCellnonDiff"], "columns": 2, "orient": "bottom", "direction": "vertical", "symbolOffset": 18.3, "labelOffset": 15.4, "columnPadding": 39, "rowPadding": 5.7, "labelFontSize": 17.5, "offset": 48, "symbolSize": 100, "symbolStrokeWidth": 1.5}},
            "strokeDash": {"field": "group", "type": "nominal", "scale": {"domain": ["Gap", "End-to-end", "Graft", "Graft PLCCellnonDiff", "Graft PLCCellDiff", "End-to-end PLCCellDiff", "End-to-end PLCCellnonDiff"], "range": [[1, 0], [5, 3], [1.5, 3], [1.5, 2, 6, 2], [1.5, 3], [1, 0], [5, 3]]},
              "legend": {"title": null, "values": ["Gap", "End-to-end", "Graft", "Graft PLCCellnonDiff", "Graft PLCCellDiff", "End-to-end PLCCellDiff", "End-to-end PLCCellnonDiff"], "columns": 2, "orient": "bottom", "direction": "vertical", "symbolOffset": 18.3, "labelOffset": 15.4, "columnPadding": 39, "rowPadding": 5.7, "labelFontSize": 17.5, "offset": 48, "symbolSize": 100, "symbolStrokeWidth": 1.5}}
          }
        }
      ]
    }
  ]
}
